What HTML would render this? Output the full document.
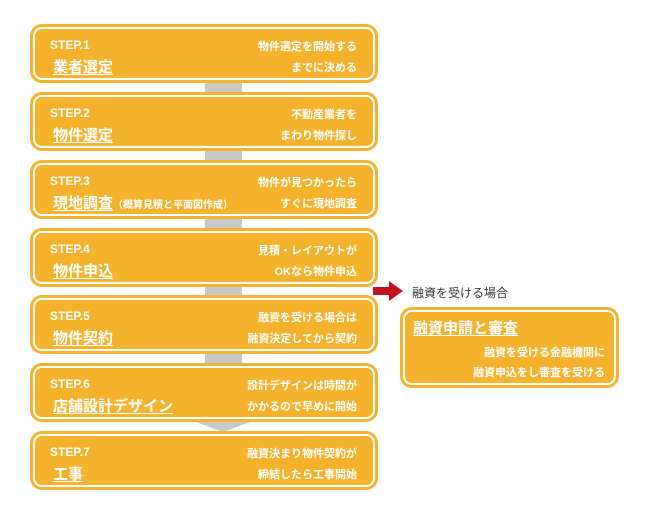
<!DOCTYPE html>
<html><head><meta charset="utf-8"><style>
body{margin:0;width:650px;height:514px;background:#fff;position:relative;font-family:"Liberation Sans","Noto Sans CJK JP",sans-serif;overflow:hidden}
.box{position:absolute;left:30px;width:348px;height:59px;box-sizing:border-box;background:#f5b22d;border-radius:12px;}
.box::before{content:"";position:absolute;left:3px;top:3px;right:3px;bottom:3px;border:2px solid #fff;border-radius:9px;}
.step{position:absolute;left:20px;top:14px;color:#fff;font-weight:bold;font-size:12px}
.title{position:absolute;left:23px;top:32px;color:#fff;font-weight:bold;font-size:15px;text-decoration:underline;text-underline-offset:2px;white-space:nowrap}
.title small{font-size:10px;text-decoration:none;display:inline-block}
.r{position:absolute;right:21px;color:#fff;font-weight:bold;font-size:11px;white-space:nowrap}
.r1{top:14px}.r2{top:35px}
.con{position:absolute;left:205px;width:37px;background:#c8c8c8;height:9px}
</style></head><body>
<div class="con" style="top:83px"></div>
<div class="con" style="top:151px"></div>
<div class="con" style="top:219px"></div>
<div class="con" style="top:287px"></div>
<div class="con" style="top:354px"></div>
<div style="position:absolute;left:196px;top:422px;width:0;height:0;border-left:27px solid transparent;border-right:27px solid transparent;border-top:10px solid #c8c8c8"></div>

<div class="box" style="top:24px"><div class="step">STEP.1</div><div class="title">業者選定</div><div class="r r1">物件選定を開始する</div><div class="r r2">までに決める</div></div>
<div class="box" style="top:92px"><div class="step">STEP.2</div><div class="title">物件選定</div><div class="r r1">不動産業者を</div><div class="r r2">まわり物件探し</div></div>
<div class="box" style="top:160px"><div class="step">STEP.3</div><div class="title">現地調査<small>（概算見積と平面図作成）</small></div><div class="r r1">物件が見つかったら</div><div class="r r2">すぐに現地調査</div></div>
<div class="box" style="top:228px"><div class="step">STEP.4</div><div class="title">物件申込</div><div class="r r1">見積・レイアウトが</div><div class="r r2">OKなら物件申込</div></div>
<div class="box" style="top:295px"><div class="step">STEP.5</div><div class="title">物件契約</div><div class="r r1">融資を受ける場合は</div><div class="r r2">融資決定してから契約</div></div>
<div class="box" style="top:363px"><div class="step">STEP.6</div><div class="title">店舗設計デザイン</div><div class="r r1">設計デザインは時間が</div><div class="r r2">かかるので早めに開始</div></div>
<div class="box" style="top:431px"><div class="step">STEP.7</div><div class="title">工事</div><div class="r r1">融資決まり物件契約が</div><div class="r r2">締結したら工事開始</div></div>

<svg style="position:absolute;left:373px;top:281px" width="32" height="20"><polygon points="0,6 16,6 16,0 30,10 16,20 16,14 0,14" fill="#c3121b"/></svg>
<div style="position:absolute;left:412px;top:284px;font-size:12px;color:#333">融資を受ける場合</div>
<div class="box" style="left:400px;top:307px;width:219px;height:81px"><div class="title" style="left:13px;top:10px">融資申請と審査</div><div class="r" style="top:37px;right:14px">融資を受ける金融機関に</div><div class="r" style="top:57px;right:14px">融資申込をし審査を受ける</div></div>
</body></html>
